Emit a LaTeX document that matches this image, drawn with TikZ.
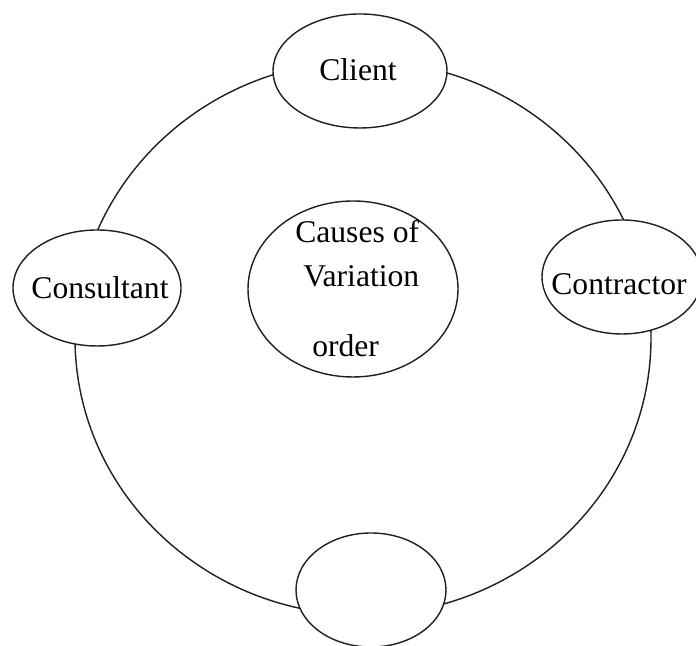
\documentclass[tikz,border=0pt]{standalone}
\usepackage{fontspec}
\setmainfont{Liberation Serif}
\usetikzlibrary{positioning}
\definecolor{ringline}{HTML}{202020}

\tikzset{
  ring/.style={draw=ringline, line width=1pt},
  party/.style={draw=ringline, fill=white, line width=1pt},
  label/.style={font=\fontsize{22.5}{27}\selectfont, inner sep=0pt}
}

\begin{document}
\begin{tikzpicture}

  % ---- Page frame ----
  \clip (0,0) rectangle (17.4,16.15);
  \fill[white] (0,0) rectangle (17.4,16.15);

  % ---- Centres ----
  \coordinate (hub)      at (9.075,7.7);
  \coordinate (clientc)  at (9.0,14.375);
  \coordinate (consultc) at (2.425,8.95);
  \coordinate (contractc) at (15.55,9.225);
  \coordinate (emptyc)   at (9.275,1.4);
  \coordinate (causec)   at (8.825,8.925);

  % ---- Outer ring joining the parties ----
  \draw[ring] (hub) ellipse (7.2 and 6.925);

  % ---- Parties on the ring ----
  \draw[party] (clientc)   ellipse (2.175 and 1.425);
  \draw[party] (consultc)  ellipse (2.1 and 1.45);
  \draw[party] (contractc) ellipse (2.0 and 1.425);
  \draw[party] (emptyc)    ellipse (1.875 and 1.425);

  \node[label] (client)   at (8.95,14.4)  {Client};
  \node[label] (consult)  at (2.5,8.95)   {Consultant};
  \node[label] (contract) at (15.475,9.05) {Contractor};

  % ---- Centre: causes ----
  \draw[party] (causec) ellipse (2.625 and 2.2);
  \node[label, anchor=base west] (causeA) at (7.375,10.075) {Causes of};
  \node[label, anchor=base west] (causeB) at (7.575,8.975)  {Variation};
  \node[label, anchor=base west] (causeC) at (7.8,7.225)    {order};

\end{tikzpicture}
\end{document}
